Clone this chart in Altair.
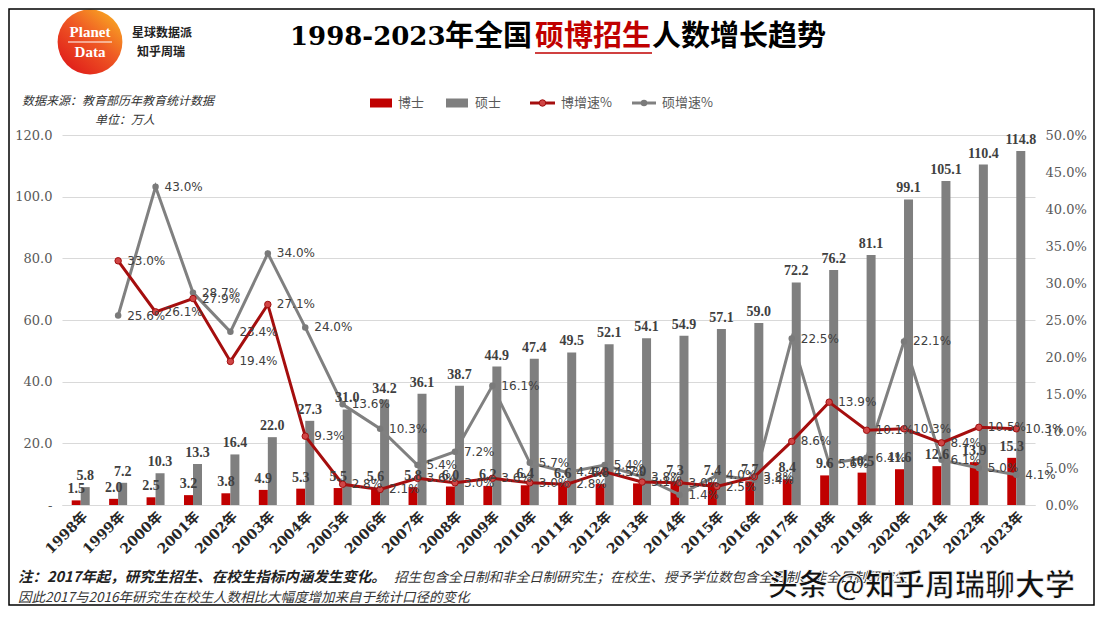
import altair as alt
import pandas as pd

# ---------------- data ----------------
years = ["1998年", "1999年", "2000年", "2001年", "2002年", "2003年", "2004年", "2005年",
         "2006年", "2007年", "2008年", "2009年", "2010年", "2011年", "2012年", "2013年",
         "2014年", "2015年", "2016年", "2017年", "2018年", "2019年", "2020年", "2021年",
         "2022年", "2023年"]
phd = [1.5, 2.0, 2.5, 3.2, 3.8, 4.9, 5.3, 5.5, 5.6, 5.8, 6.0, 6.2, 6.4, 6.6, 6.8, 7.0,
       7.3, 7.4, 7.7, 8.4, 9.6, 10.5, 11.6, 12.6, 13.9, 15.3]
master = [5.8, 7.2, 10.3, 13.3, 16.4, 22.0, 27.3, 31.0, 34.2, 36.1, 38.7, 44.9, 47.4, 49.5,
          52.1, 54.1, 54.9, 57.1, 59.0, 72.2, 76.2, 81.1, 99.1, 105.1, 110.4, 114.8]
phd_growth = [None, 33.0, 26.1, 27.9, 19.4, 27.1, 9.3, 2.8, 2.1, 3.6, 3.0, 3.6, 3.0, 2.8,
              4.5, 3.1, 3.0, 2.5, 3.8, 8.6, 13.9, 10.1, 10.3, 8.4, 10.5, 10.3]
master_growth = [None, 25.6, 43.0, 28.7, 23.4, 34.0, 24.0, 13.6, 10.3, 5.4, 7.2, 16.1, 5.7,
                 4.4, 5.4, 3.8, 1.4, 4.0, 3.4, 22.5, 5.6, 6.4, 22.1, 6.1, 5.0, 4.1]
left_ticks = [0, 20, 40, 60, 80, 100, 120]
right_ticks = [0, 0.05, 0.10, 0.15, 0.20, 0.25, 0.30, 0.35, 0.40, 0.45, 0.50]

title_parts = ["1998-2023", "年全国", "硕博招生", "人数增长趋势"]
legend_labels = ["博士", "硕士", "博增速%", "硕增速%"]
source_text = "数据来源：教育部历年教育统计数据"
unit_text = "单位：万人"
note_bold = "注：2017年起，研究生招生、在校生指标内涵发生变化。"
note_rest = "招生包含全日制和非全日制研究生；在校生、授予学位数包含全日制、非全日制研究生，"
note_line2 = "因此2017与2016年研究生在校生人数相比大幅度增加来自于统计口径的变化"
watermark = "头条 @知乎周瑞聊大学"
logo_texts = ["Planet", "Data", "星球数据派", "知乎周瑞"]

df = pd.DataFrame({
    "year": years,
    "phd": phd,
    "master": master,
    "pg": [None if v is None else v / 100 for v in phd_growth],
    "mg": [None if v is None else v / 100 for v in master_growth],
})

# ---------------- layout ----------------
W, H = 973, 370
PL, PT, PR, PB = 54, 127, 60, 101
OX, OY = 8 + PL, 8 + PT  # page position of plot origin

RED = "#C00000"
GRAY = "#7F7F7F"
LINE_RED = "#A50E0E"
LINE_GRAY = "#808080"
SERIF = "DejaVu Serif"
CJK = "Noto Sans CJK SC"

x_axis = alt.Axis(title=None, labelAngle=-45, labelFont="DejaVu Serif, Noto Sans CJK SC",
                  labelFontWeight="bold", labelFontSize=14, labelColor="#262626",
                  ticks=False, domain=True, domainColor="#D9D9D9", labelPadding=4, grid=False)
x_enc = alt.X("year:N", sort=None, scale=alt.Scale(paddingInner=0, paddingOuter=0), axis=x_axis)

yl = alt.Scale(domain=[0, 120], nice=False)
yr = alt.Scale(domain=[0, 0.5], nice=False)

axis_l = alt.Axis(title=None, orient="left", values=left_ticks,
                  labelExpr="datum.value == 0 ? '-' : format(datum.value, '.1f')",
                  labelFont=SERIF, labelFontSize=13, labelColor="#595959", ticks=False,
                  domain=False, grid=True, gridColor="#D9D9D9", labelPadding=10)
axis_r = alt.Axis(title=None, orient="right", values=right_ticks, format=".1%",
                  labelFont=SERIF, labelFontSize=13, labelColor="#595959", ticks=False,
                  domain=False, grid=False, labelPadding=10)

base = alt.Chart(df)

bar_red = base.mark_bar(color=RED, width=9, xOffset=-4.5).encode(
    x=x_enc, y=alt.Y("phd:Q", scale=yl, axis=axis_l))
bar_gray = base.mark_bar(color=GRAY, width=9, xOffset=4.5).encode(
    x=x_enc, y=alt.Y("master:Q", scale=yl, axis=axis_l))
bars = alt.layer(bar_red, bar_gray)

line_gray = base.transform_filter("datum.mg != null").mark_line(color=LINE_GRAY, strokeWidth=3).encode(
    x=x_enc, y=alt.Y("mg:Q", scale=yr, axis=axis_r))
line_red = base.transform_filter("datum.pg != null").mark_line(color=LINE_RED, strokeWidth=3).encode(
    x=x_enc, y=alt.Y("pg:Q", scale=yr, axis=axis_r))
pt_gray = base.transform_filter("datum.mg != null").mark_circle(size=42, color="#7A7A7A", opacity=1).encode(
    x=x_enc, y=alt.Y("mg:Q", scale=yr, axis=axis_r))
pt_red = base.transform_filter("datum.pg != null").mark_circle(
    size=42, color="#D04545", stroke="#A01010", strokeWidth=1, opacity=1).encode(
    x=x_enc, y=alt.Y("pg:Q", scale=yr, axis=axis_r))
lines = alt.layer(line_gray, pt_gray, line_red, pt_red)

lab_kw = dict(baseline="bottom", dy=-4, font="Liberation Serif", fontWeight="bold",
              fontSize=14, color="#404040")
lab_red = base.mark_text(xOffset=-4.5, **lab_kw).encode(
    x=x_enc, y=alt.Y("phd:Q", scale=yl, axis=None), text=alt.Text("phd:Q", format=".1f"))
lab_gray = base.mark_text(xOffset=4.5, **lab_kw).encode(
    x=x_enc, y=alt.Y("master:Q", scale=yl, axis=None), text=alt.Text("master:Q", format=".1f"))
bar_labels = alt.layer(lab_red, lab_gray)

pct_kw = dict(align="left", baseline="middle", dx=9, font="DejaVu Sans", fontSize=12, color="#404040")
pct_gray = base.transform_filter("datum.mg != null").mark_text(**pct_kw).encode(
    x=x_enc, y=alt.Y("mg:Q", scale=yr, axis=None), text=alt.Text("mg:Q", format=".1%"))
pct_red = base.transform_filter("datum.pg != null").mark_text(**pct_kw).encode(
    x=x_enc, y=alt.Y("pg:Q", scale=yr, axis=None), text=alt.Text("pg:Q", format=".1%"))
pct_labels = alt.layer(pct_gray, pct_red)


# ---------------- decorations ----------------
def txt(s, px, py, **kw):
    return alt.Chart(pd.DataFrame({"t": [s]})).mark_text(**kw).encode(
        x=alt.value(px - OX), y=alt.value(py - OY), text="t:N")


def rect(x1, x2, y1, y2, **kw):
    return alt.Chart(pd.DataFrame({"t": [0]})).mark_rect(**kw).encode(
        x=alt.value(x1 - OX), x2=alt.value(x2 - OX), y=alt.value(y1 - OY), y2=alt.value(y2 - OY))


def rule(x1, x2, y, **kw):
    return alt.Chart(pd.DataFrame({"t": [0]})).mark_rule(**kw).encode(
        x=alt.value(x1 - OX), x2=alt.value(x2 - OX), y=alt.value(y - OY))


def dot(px, py, **kw):
    return alt.Chart(pd.DataFrame({"t": [0]})).mark_circle(**kw).encode(
        x=alt.value(px - OX), y=alt.value(py - OY))


deco = []
# title
deco.append(txt(title_parts[0], 290, 37, align="left", baseline="middle", font=SERIF,
                fontWeight="bold", fontSize=26, color="#000000"))
deco.append(txt(title_parts[1], 445, 37, align="left", baseline="middle", font=CJK,
                fontWeight="bold", fontSize=29, color="#000000"))
deco.append(txt(title_parts[2], 535, 37, align="left", baseline="middle", font=CJK,
                fontWeight="bold", fontSize=29, color=RED))
deco.append(txt(title_parts[3], 652, 37, align="left", baseline="middle", font=CJK,
                fontWeight="bold", fontSize=29, color="#000000"))
deco.append(rule(535, 652, 53, color=RED, strokeWidth=1.5))

# logo
grad = alt.LinearGradient(gradient="linear", x1=0.9, y1=0.1, x2=0.2, y2=0.95,
                          stops=[alt.GradientStop(color="#F8A523", offset=0),
                                 alt.GradientStop(color="#EF5A24", offset=0.45),
                                 alt.GradientStop(color="#E01E1A", offset=1)])
deco.append(alt.Chart(pd.DataFrame({"t": [0]})).mark_point(
    shape="circle", filled=True, size=4200, color=grad, opacity=1).encode(
    x=alt.value(90 - OX), y=alt.value(42 - OY)))
deco.append(txt(logo_texts[0], 90, 32, align="center", baseline="middle", font="Liberation Serif",
                fontWeight="bold", fontSize=15, color="#FFFFFF"))
deco.append(rule(68, 112, 42, color="#FFFFFF", strokeWidth=1.2))
deco.append(txt(logo_texts[1], 90, 52, align="center", baseline="middle", font="Liberation Serif",
                fontWeight="bold", fontSize=15, color="#FFFFFF"))
deco.append(txt(logo_texts[2], 132, 33, align="left", baseline="middle", font=CJK,
                fontWeight="bold", fontSize=12, color="#222222"))
deco.append(txt(logo_texts[3], 161, 52, align="center", baseline="middle", font=CJK,
                fontWeight="bold", fontSize=12, color="#222222"))

# source
deco.append(txt(source_text, 22, 101, align="left", baseline="middle", font=CJK, fontStyle="italic",
                fontSize=12, color="#333333"))
deco.append(txt(unit_text, 95, 120, align="left", baseline="middle", font=CJK, fontStyle="italic",
                fontSize=12, color="#333333"))

# legend
LY = 103
deco.append(rect(370, 392, LY - 4.5, LY + 4.5, color=RED))
deco.append(txt(legend_labels[0], 398, LY, align="left", baseline="middle", font=CJK, fontSize=13,
                color="#595959"))
deco.append(rect(446, 468, LY - 4.5, LY + 4.5, color=GRAY))
deco.append(txt(legend_labels[1], 475, LY, align="left", baseline="middle", font=CJK, fontSize=13,
                color="#595959"))
deco.append(rule(530, 555, LY, color=LINE_RED, strokeWidth=3))
deco.append(dot(542.5, LY, size=42, color="#D04545", stroke="#A01010", strokeWidth=1, opacity=1))
deco.append(txt(legend_labels[2], 561, LY, align="left", baseline="middle", font=CJK, fontSize=13,
                color="#595959"))
deco.append(rule(632, 656, LY, color=LINE_GRAY, strokeWidth=3))
deco.append(dot(644, LY, size=42, color="#7A7A7A", opacity=1))
deco.append(txt(legend_labels[3], 662, LY, align="left", baseline="middle", font=CJK, fontSize=13,
                color="#595959"))

# footnote
deco.append(txt(note_bold, 18, 578, align="left", baseline="middle", font=CJK, fontStyle="italic",
                fontWeight="bold", fontSize=14.5, color="#222222"))
deco.append(txt(note_rest, 394, 578, align="left", baseline="middle", font=CJK, fontStyle="italic",
                fontSize=13.5, color="#333333"))
deco.append(txt(note_line2, 18, 598, align="left", baseline="middle", font=CJK, fontStyle="italic",
                fontSize=13.5, color="#333333"))

# watermark
deco.append(txt(watermark, 768, 586, align="left", baseline="middle", font=CJK, fontSize=30,
                fontWeight="bold", color="#111111", stroke="#FFFFFF", strokeWidth=0.8))

# frame
deco.append(rect(9, 1094, 9, 605, fillOpacity=0, stroke="#000000", strokeWidth=1.5))

chart = alt.layer(bars, lines, bar_labels, pct_labels, *deco).resolve_scale(
    y="independent"
).properties(
    width=W, height=H,
    padding={"left": PL, "top": PT, "right": PR, "bottom": PB},
    autosize=alt.AutoSizeParams(type="none"),
    background="#FFFFFF",
).configure_view(stroke=None)

chart.save("out.html", embed_options={"renderer": "svg", "actions": False})
